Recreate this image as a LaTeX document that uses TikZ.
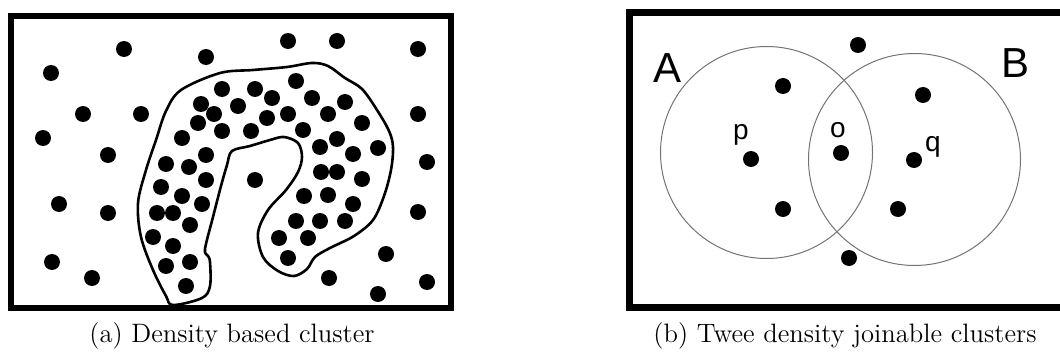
\documentclass[tikz,border=0pt]{standalone}
\usepackage{fontspec}
\newfontfamily\regionfont{Liberation Sans}

\begin{document}
\begin{tikzpicture}[
                x=0.5pt,
                y=-0.5pt,
                dbFrame/.style={draw=black,line width=3pt},
                dbJoinFrame/.style={draw=black,line width=3.5pt},
                dbEdge/.style={draw=black,line width=1.3pt},
                dbRange/.style={draw=black!55,line width=0.5pt},
                dbDot/.style={circle,fill=black,draw=none,
                              minimum size=8pt,inner sep=0pt},
                dbBigLabel/.style={font=\regionfont\fontsize{21}{21}\selectfont,inner sep=0pt},
                dbSmallLabel/.style={font=\regionfont\fontsize{14}{14}\selectfont,inner sep=0pt},
                dbCaption/.style={font=\fontsize{13.3}{16}\selectfont,inner sep=0pt}]
                \useasboundingbox (0,0) rectangle (1060,358);

                % (a) One cluster of dense points among noise.
                \draw[dbFrame] (11,16.5) rectangle (451,308);
                \draw[dbEdge] plot[smooth cycle,tension=0.55] coordinates {
                    (173,305) (202,298) (210,286) (210,262) (208,256) (205,249)
                    (213,217) (221,186) (227,165) (232,151) (250,146) (270,140)
                    (284,137) (298,143) (302,157) (298,172) (286,190) (268,210)
                    (258,233) (263,257) (278,271) (294,276) (307,269) (315,257)
                    (330,248) (354,236) (373,220) (384,196) (391,170) (393,147)
                    (389,131) (377,110) (362,89) (345,78) (328,66) (312,63)
                    (287,67) (253,70) (220,73) (181,90) (166,111) (156,140)
                    (146,170) (138,203) (141,237) (153,270) (166,296)};
                \foreach \px [count=\i] in {
                    (296,81),(222,89),(255,89),(272,98),(312,98),(345,102),
                    (201,104),(238,106),(214,114),(267,118),(288,114),(328,114),
                    (362,123),(198,123),(222,131),(251,131),(303,130),(337,139),
                    (320,147),(378,148),(182,138),(206,155),(353,154),(166,164),
                    (189,167),(321,172),(337,172),(362,179),(206,180),(161,187),
                    (182,196),(202,204),(157,213),(173,213),(190,225),(153,237),
                    (173,246),(190,262),(166,266),(186,286),(304,196),(328,195),
                    (353,204),(296,221),(320,221),(345,221),(279,238),(308,238),
                    (288,258)}
                    \node[dbDot] (core\i) at \px {};
                \foreach \px [count=\i] in {
                    (124,49),(51,73),(206,57),(83,114),(141,114),(43,138),
                    (108,155),(59,204),(108,213),(52,262),(92,278),(288,41),
                    (337,41),(418,49),(418,114),(427,162),(418,212),(386,254),
                    (427,282),(378,294),(329,278),(255,180)}
                    \node[dbDot] (noise\i) at \px {};
                \node[dbCaption] (capA) at (232,336) {(a) Density based cluster};


                % (b) Two eps-ranges A and B that share the point o.
                \draw[dbJoinFrame] (1060,12.5) -- (629,12.5) -- (629,307.5) -- (1060,307.5);
                \coordinate (cA) at (766.5,152.5);
                \coordinate (cB) at (914.5,159.5);
                \draw[dbRange] (cA) circle (53pt);
                \draw[dbRange] (cB) circle (53pt);
                \node[dbDot] (p) at (751,159) {};
                \node[dbDot] (o) at (841,153) {};
                \node[dbDot] (q) at (914,160) {};
                \node[dbDot] (a1) at (783,86) {};
                \node[dbDot] (a2) at (783,209) {};
                \node[dbDot] (b1) at (923,95) {};
                \node[dbDot] (b2) at (898,209) {};
                \node[dbDot] (n1) at (858,45) {};
                \node[dbDot] (n2) at (849,258) {};
                \node[dbBigLabel] (labA) at (667,68) {A};
                \node[dbBigLabel] (labB) at (1015,63) {B};
                \node[dbSmallLabel] (labP) at (741,135) {p};
                \node[dbSmallLabel] (labO) at (838,130) {o};
                \node[dbSmallLabel] (labQ) at (933,147) {q};
                \node[dbCaption] (capB) at (845,336) {(b) Twee density joinable clusters};

            \end{tikzpicture}
\end{document}
